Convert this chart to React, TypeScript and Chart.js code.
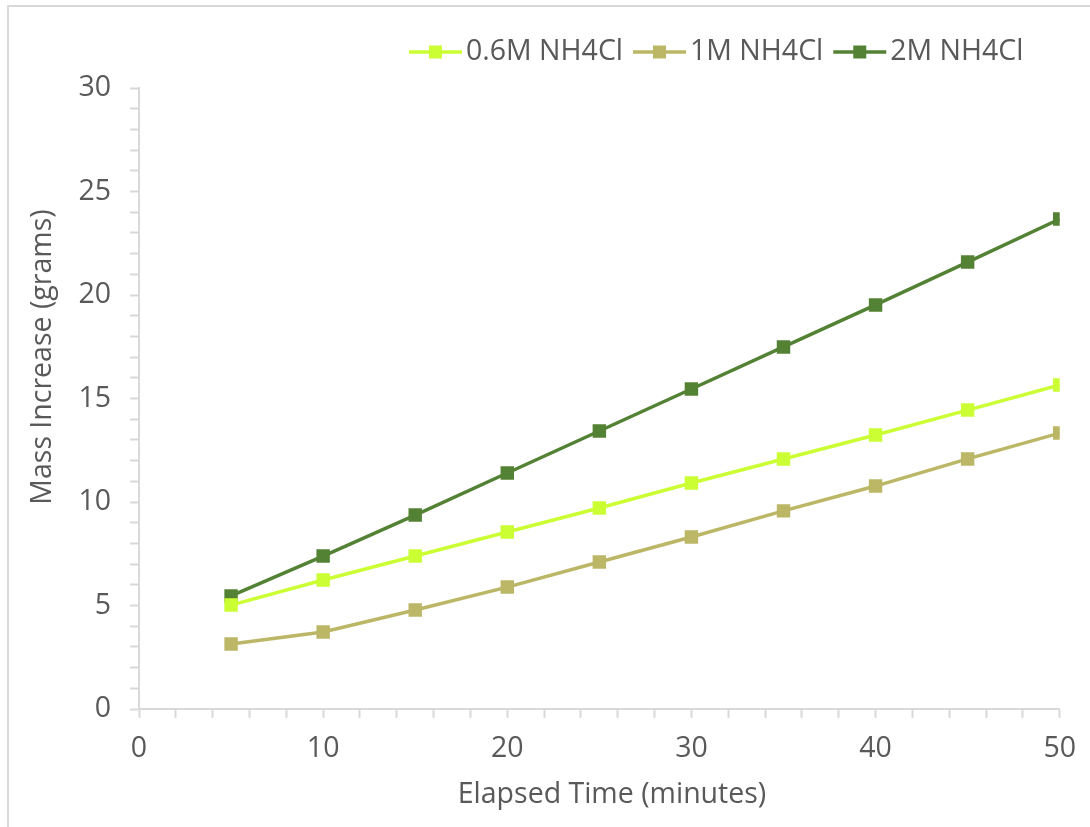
import React, { useEffect, useRef } from "react";
import { Chart, registerables } from "chart.js";

Chart.register(...registerables);

const times = [5, 10, 15, 20, 25, 30, 35, 40, 45, 50];
const series06 = [5.02, 6.23, 7.39, 8.55, 9.71, 10.92, 12.08, 13.24, 14.44, 15.65];
const series1 = [3.14, 3.72, 4.78, 5.89, 7.1, 8.31, 9.57, 10.77, 12.08, 13.33];
const series2 = [5.46, 7.39, 9.37, 11.4, 13.43, 15.46, 17.49, 19.52, 21.59, 23.67];
const seriesLabels = ["0.6M NH4Cl", "1M NH4Cl", "2M NH4Cl"];
const seriesColors = ["#ccff33", "#bbb766", "#548235"];
const xTitle = "Elapsed Time (minutes)";
const yTitle = "Mass Increase (grams)";

const FONT = "'Open Sans', sans-serif";
const FS = 28.5;
const TEXT = "#595959";
const AXIS = "#d9d9d9";

const legendAndTitles = {
  id: "legendAndTitles",
  afterDraw(chart: any) {
    const ctx = chart.ctx;
    ctx.save();
    ctx.font = `${FS}px ${FONT}`;
    ctx.fillStyle = TEXT;
    ctx.textBaseline = "middle";
    // legend
    let x = 400;
    const y = 45;
    chart.data.datasets.forEach((ds: any) => {
      ctx.strokeStyle = ds.borderColor;
      ctx.lineWidth = 3.5;
      ctx.beginPath();
      ctx.moveTo(x, y);
      ctx.lineTo(x + 53, y);
      ctx.stroke();
      ctx.fillStyle = ds.borderColor;
      ctx.fillRect(x + 26.5 - 6.5, y - 6.5, 13, 13);
      ctx.fillStyle = TEXT;
      ctx.textAlign = "left";
      ctx.fillText(ds.label, x + 57, y);
      x += 57 + ctx.measureText(ds.label).width + 10;
    });
    // x title
    ctx.textAlign = "center";
    ctx.fillText(xTitle, 603, 788);
    // y title
    ctx.translate(34, 350);
    ctx.rotate(-Math.PI / 2);
    ctx.fillText(yTitle, 0, 0);
    ctx.restore();
  },
};

export default function App() {
  const ref = useRef<HTMLCanvasElement>(null);
  useEffect(() => {
    if (!ref.current) return;
    const mk = (vals: number[], i: number) => ({
      label: seriesLabels[i],
      data: times.map((t, k) => ({ x: t, y: vals[k] })),
      borderColor: seriesColors[i],
      backgroundColor: seriesColors[i],
      borderWidth: 3.5,
      pointStyle: "rect",
      pointRadius: 9.5,
      pointHoverRadius: 9.5,
      pointBorderWidth: 0,
      tension: 0,
    });
    const chart = new Chart(ref.current, {
      type: "line",
      data: {
        datasets: [mk(series06, 0), mk(series1, 1), mk(series2, 2)],
      },
      options: {
        animation: false,
        responsive: false,
        devicePixelRatio: 1,
        layout: { padding: { top: 81, right: 30, left: 0, bottom: 0 } },
        plugins: {
          legend: { display: false },
          tooltip: { enabled: false },
        },
        scales: {
          x: {
            type: "linear",
            min: 0,
            max: 50,
            afterFit: (s: any) => {
              s.height = 118;
            },
            border: { color: AXIS, width: 2 },
            grid: {
              drawOnChartArea: false,
              drawTicks: true,
              tickLength: 9,
              tickColor: AXIS,
              tickWidth: 2,
            },
            ticks: {
              stepSize: 2,
              autoSkip: false,
              maxRotation: 0,
              padding: 14,
              color: TEXT,
              font: { family: FONT, size: FS },
              callback: (v: any) => (Number(v) % 10 === 0 ? String(v) : ""),
            },
          },
          y: {
            type: "linear",
            min: 0,
            max: 30,
            afterFit: (s: any) => {
              s.width = 130;
            },
            border: { color: AXIS, width: 2 },
            grid: {
              drawOnChartArea: false,
              drawTicks: true,
              tickLength: 9,
              tickColor: AXIS,
              tickWidth: 2,
            },
            ticks: {
              stepSize: 1,
              autoSkip: false,
              padding: 19,
              color: TEXT,
              font: { family: FONT, size: FS },
              callback: (v: any) => (Number(v) % 5 === 0 ? String(v) : ""),
            },
          },
        },
      } as any,
      plugins: [legendAndTitles],
    });
    return () => chart.destroy();
  }, []);
  return (
    <div
      style={{
        position: "absolute",
        left: 7,
        top: 5,
        width: 1083,
        height: 822,
        boxSizing: "border-box",
        borderTop: `2px solid ${AXIS}`,
        borderLeft: `2px solid ${AXIS}`,
        background: "#fff",
      }}
    >
      <canvas ref={ref} width={1081} height={820} style={{ display: "block" }} />
    </div>
  );
}
